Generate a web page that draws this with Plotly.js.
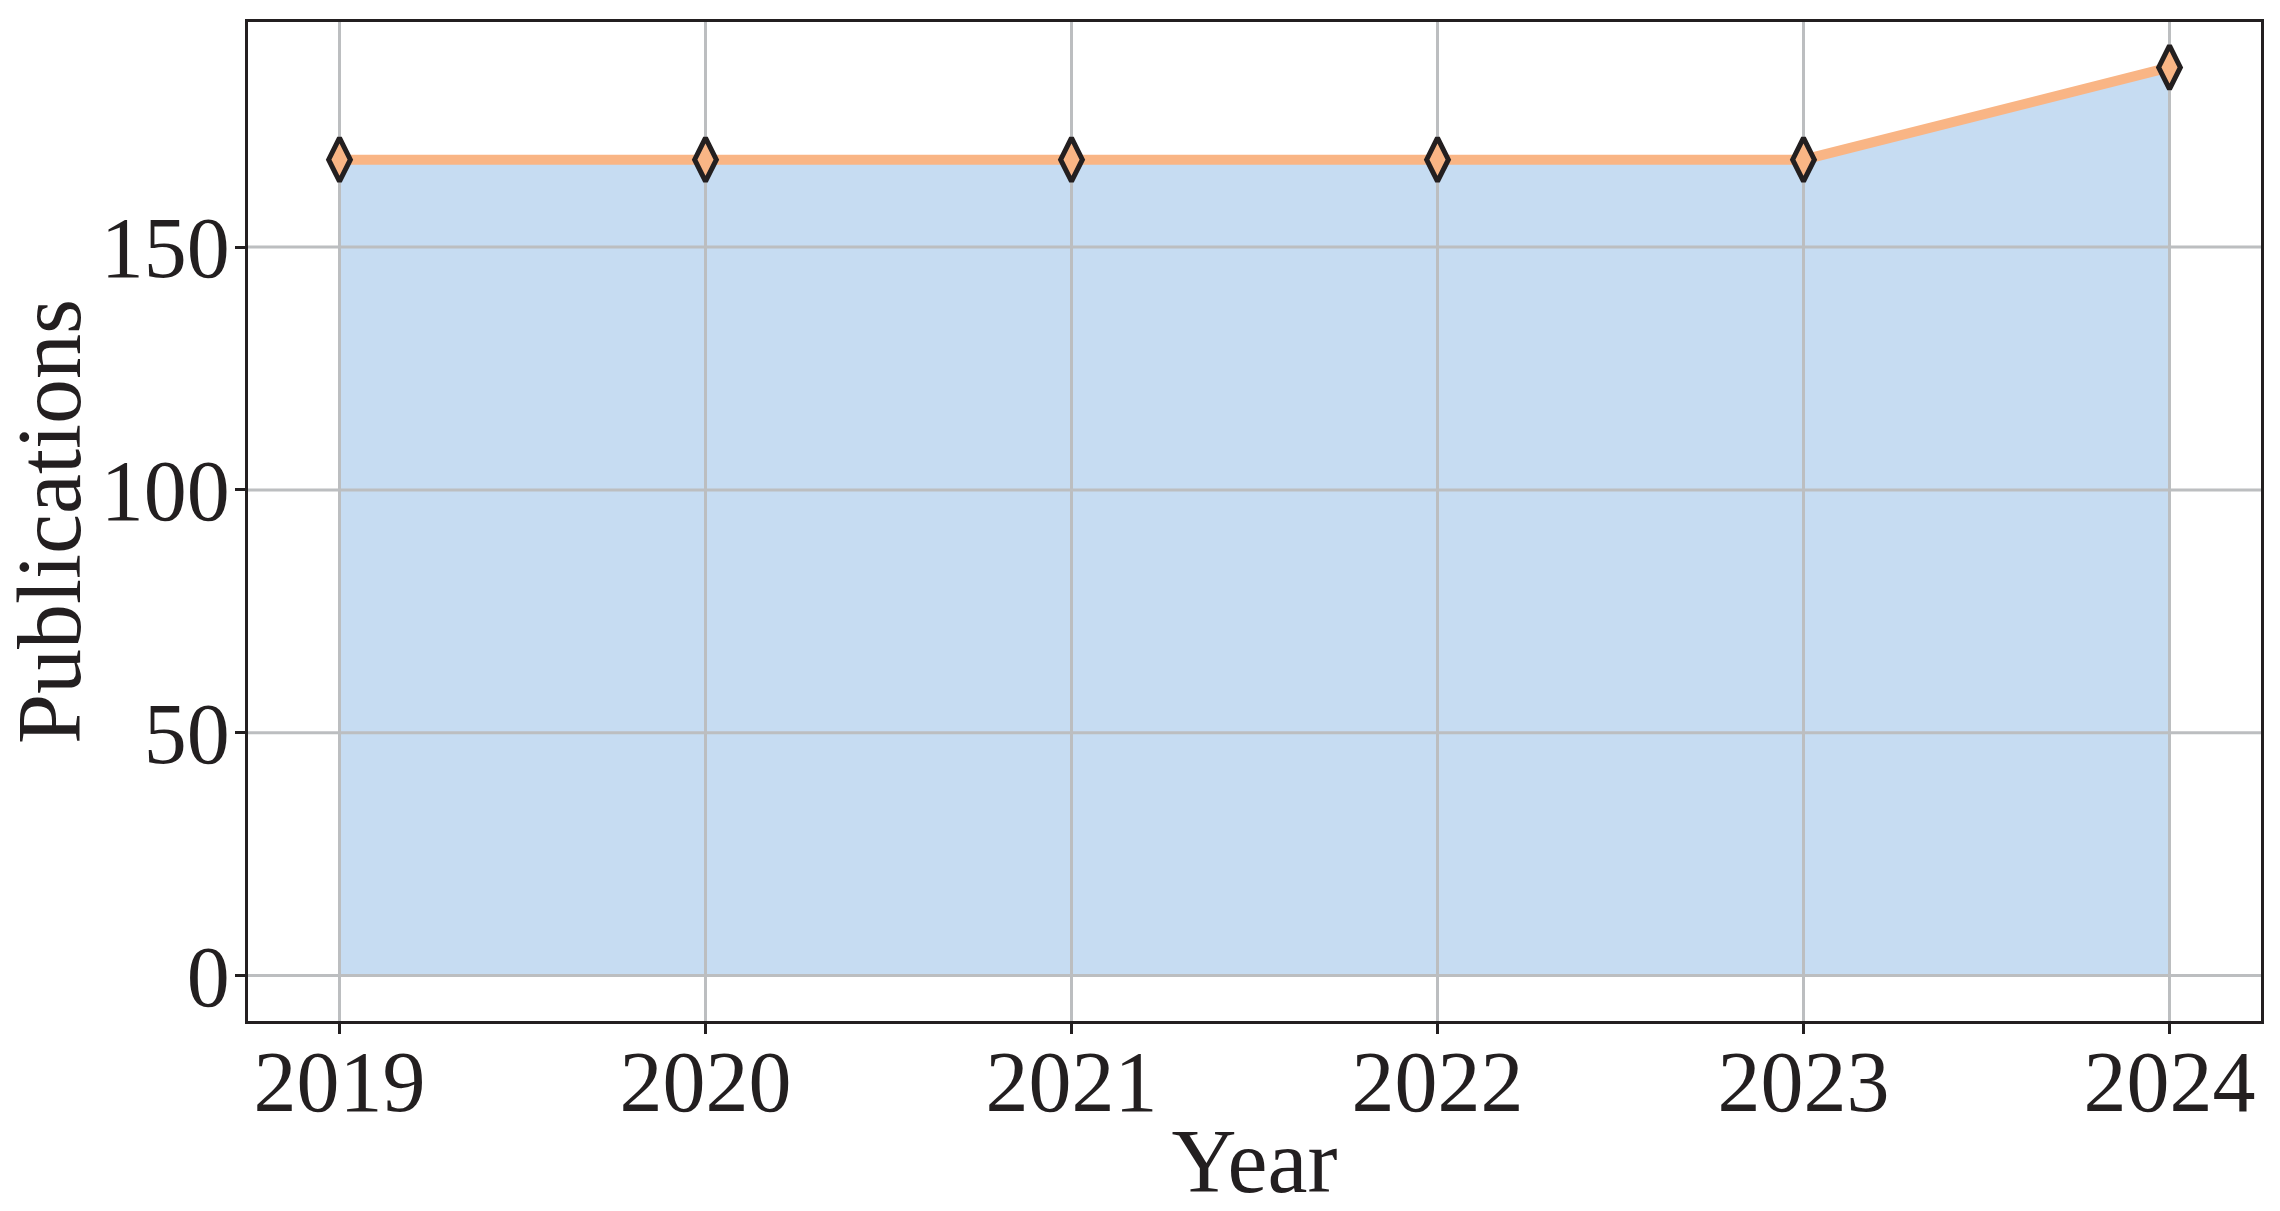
<!DOCTYPE html>
<html>
<head>
<meta charset="utf-8">
<script src="https://cdn.plot.ly/plotly-3.0.1.min.js"></script>
<style>
  html, body { margin: 0; padding: 0; background: #ffffff; }
  #chart { width: 2280px; height: 1211px; }
</style>
</head>
<body>
<div id="chart"></div>
<script>
// ---- data ----
const years = [2019, 2020, 2021, 2022, 2023, 2024];
const publications = [168, 168, 168, 168, 168, 187];
const yTicks = [0, 50, 100, 150];
const yTickLabels = ['0', '50', '100', '150'];
const xTickLabels = ['2019', '2020', '2021', '2022', '2023', '2024'];

// ---- axis ranges (matplotlib-style 5% margins) ----
const X_RANGE = [2018.75, 2024.25];
const Y_RANGE = [-9.35, 196.35];

// ---- styles ----
const FONT = '"Liberation Serif", "DejaVu Serif", serif';
const INK = '#231F20';
const GRID = '#BCBEC0';

// grid drawn as a trace so it sits above the filled area but under the line/markers
const gx = [], gy = [];
years.forEach(function (yr) { gx.push(yr, yr, null); gy.push(Y_RANGE[0], Y_RANGE[1], null); });
yTicks.forEach(function (t) { gx.push(X_RANGE[0], X_RANGE[1], null); gy.push(t, t, null); });

const traces = [
  {
    x: years, y: publications, type: 'scatter', mode: 'none',
    fill: 'tozeroy', fillcolor: '#C6DCF2', hoverinfo: 'skip', showlegend: false
  },
  {
    x: gx, y: gy, type: 'scatter', mode: 'lines',
    line: { color: GRID, width: 3 }, hoverinfo: 'skip', showlegend: false
  },
  {
    x: years, y: publications, type: 'scatter', mode: 'lines+markers',
    line: { color: '#F9B585', width: 10 },
    marker: { symbol: 'diamond-tall', size: 31, color: '#F9B585',
              line: { color: INK, width: 5 } },
    showlegend: false
  }
];

const layout = {
  width: 2280, height: 1211,
  margin: { l: 248, r: 19, t: 22, b: 190 },
  paper_bgcolor: '#ffffff', plot_bgcolor: '#ffffff',
  font: { family: FONT, color: INK, size: 84 },
  showlegend: false,
  hovermode: false,
  xaxis: {
    range: X_RANGE, tickvals: years, ticktext: xTickLabels,
    showgrid: false, zeroline: false,
    showline: true, mirror: true, linecolor: INK, linewidth: 3,
    ticks: 'outside', ticklen: 10, tickwidth: 3, tickcolor: INK,
    ticklabelstandoff: -26,
    tickfont: { family: FONT, size: 86, color: INK },
    title: { text: 'Year', font: { family: FONT, size: 90, color: INK }, standoff: 10 }
  },
  yaxis: {
    range: Y_RANGE, tickvals: yTicks, ticktext: yTickLabels,
    showgrid: false, zeroline: false,
    showline: true, mirror: true, linecolor: INK, linewidth: 3,
    ticks: 'outside', ticklen: 10, tickwidth: 3, tickcolor: INK,
    ticklabelstandoff: -12,
    tickfont: { family: FONT, size: 86, color: INK },
    title: { text: 'Publications', font: { family: FONT, size: 90, color: INK }, standoff: 10 }
  }
};

Plotly.newPlot('chart', traces, layout, { displayModeBar: false, staticPlot: true });
</script>
</body>
</html>
